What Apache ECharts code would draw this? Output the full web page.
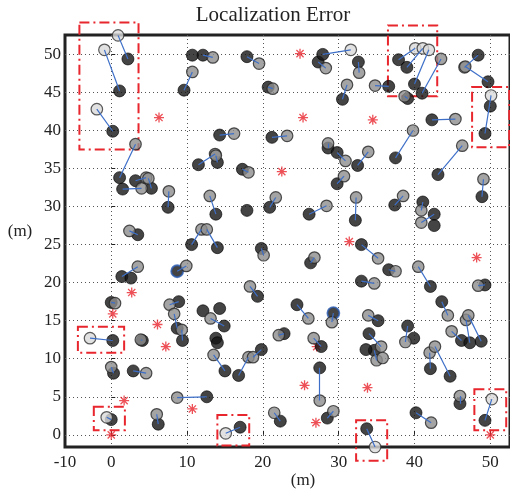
<!DOCTYPE html>
<html>
<head>
<meta charset="utf-8">
<script src="https://cdn.jsdelivr.net/npm/echarts@6/dist/echarts.min.js"></script>
<style>html,body{margin:0;padding:0;background:#fff}#c{width:510px;height:496px}</style>
</head>
<body>
<div id="c"></div>
<script>
// ---- data ----
const titleText = 'Localization Error';
const xLabelValues = [-6.1, 0, 10, 20, 30, 40, 50];
const xLabelTexts = ['-10', '0', '10', '20', '30', '40', '50'];
const xTickValues = [0, 10, 20, 30, 40, 50];
const yTickValues = [0, 5, 10, 15, 20, 25, 30, 35, 40, 45, 50];
const xRange = [-6.1, 52.6];
const yRange = [-1.6, 52.55];

// anchors (red stars)
const anchors = [[6.3,41.7],[24.9,50.1],[25.3,41.7],[22.5,34.6],[34.5,41.4],[2.7,18.7],[31.4,25.4],[48.2,23.3],[0.2,15.9],[6.1,14.5],[7.2,11.6],[1.7,4.5],[10.7,3.4],[0,0],[25.5,6.5],[27.0,1.6],[33.8,6.2],[50,0],[27.1,11.6]];

// [estX, estY, trueX, trueY] - normal nodes
const grayPairs = [
[12.1,49.9,13.4,49.6],[9.6,45.3,10.7,47.7],[17.9,49.7,19.5,48.8],[27.3,49.0,28.3,48.2],
[20.7,45.7,21.3,45.5],[30.5,44.1,31.1,46.0],[14.3,39.4,16.2,39.6],[21.2,39.1,23.2,39.3],
[28.6,37.7,28.6,38.3],[29.8,37.1,30.9,36.0],[11.5,35.5,13.7,36.9],[14.0,35.8,13.8,36.7],
[17.3,34.9,18.1,34.5],[32.6,49.0,32.7,47.6],[36.6,45.8,34.8,45.9],[39.1,44.2,38.7,44.5],
[41.0,44.9,43.5,49.4],[48.4,49.9,46.6,48.3],[49.7,46.4,46.7,48.4],[42.3,41.4,45.4,41.5],
[37.5,36.4,39.8,40.0],[43.1,34.2,46.3,38.0],[32.5,35.4,33.9,37.2],[1.1,33.8,3.2,38.2],
[1.5,32.3,4.0,32.4],[3.2,33.4,4.6,33.8],[5.3,32.4,4.9,33.7],[7.5,29.9,7.6,32.0],
[3.5,26.3,2.4,26.8],[10.6,25.0,11.9,27.0],[14.0,24.6,12.6,27.0],[13.8,29.0,13.0,31.4],
[20.9,29.9,21.7,31.2],[26.1,29.0,28.4,30.1],[29.8,33.0,30.7,34.0],[19.8,24.5,20.1,23.6],
[26.3,22.6,26.8,23.3],[19.3,18.2,18.3,19.5],[1.4,20.8,3.5,22.1],[0.0,17.4,0.5,17.3],
[8.9,17.5,7.7,17.1],[8.7,14.0,8.3,15.9],[9.4,12.4,9.3,13.8],[14.9,14.3,13.1,15.3],
[4.1,12.4,3.9,12.5],[0.3,8.1,0.0,8.9],[2.9,8.4,4.6,8.1],[12.6,5.0,8.7,4.9],
[6.2,1.4,6.0,2.7],[15.0,8.4,13.5,10.5],[16.8,7.8,18.1,10.2],[19.8,11.2,18.7,10.2],
[24.5,17.1,26.0,15.3],[22.8,13.3,22.1,13.1],[27.7,11.6,26.7,12.7],[27.5,8.8,27.5,4.5],
[22.3,1.8,21.5,2.9],[28.5,2.2,29.3,3.1],[35.2,15.0,33.9,15.7],[34.0,13.3,35.6,11.6],
[34.7,11.1,35.0,9.8],[43.6,17.5,44.4,15.7],[39.1,14.3,38.8,12.2],[46.2,12.4,44.9,13.6],
[47.3,12.1,46.8,15.1],[48.8,12.3,47.1,15.7],[42.1,8.7,42.0,10.8],[44.7,7.7,42.7,11.6],
[46.0,4.1,46.0,5.1],[40.2,2.9,42.2,1.6],[32.2,28.2,32.3,31.2],[37.4,30.2,38.5,31.4],
[41.1,30.6,40.9,29.5],[42.6,29.0,40.9,27.9],[33.0,25.0,35.2,23.2],[36.6,21.7,37.5,21.5],
[42.1,19.5,40.5,22.1],[33.0,20.2,34.7,19.9],[49.3,19.7,48.4,19.6],[48.9,31.3,49.1,33.6]
];
// nodes drawn with a blue ring
const ringPairs = [[8.7,21.5,9.9,22.2],[29.3,16.0,29.1,14.8]];
// outlier nodes [estX, estY, trueX, trueY]
const outlierPairs = [
[2.2,49.4,0.9,52.5],[1.1,45.2,-0.9,50.6],[0.2,39.9,-1.9,42.8],[37.9,49.3,40.1,50.8],
[39.0,48.3,41.1,50.8],[40.0,46.1,41.9,50.6],[27.9,50.0,31.6,50.6],[49.3,39.6,50.1,44.6],
[0.2,12.4,-2.8,12.7],[0.0,2.0,-0.6,2.3],[17.0,1.0,15.1,0.2],[49.3,1.9,50.2,4.7],
[33.7,0.8,34.8,-1.6]
];
const loneEst = [[10.7,49.9],[17.9,29.5],[2.6,20.6],[12.1,16.3],[14.3,16.6],[13.8,12.7],[14.0,12.1],[33.6,11.2],[39.9,12.7],[42.6,27.5],[50.0,43.2]];
const loneTrue = [[35.8,10.1]];
// outlier boxes [x1, y1, x2, y2]
const outlierBoxes = [
[-4.2,37.5,3.6,54.2],[36.5,44.5,43.0,53.8],[47.6,37.8,52.5,45.7],[-4.4,10.8,1.7,14.2],
[-2.3,0.6,1.8,3.7],[14.0,-1.4,18.2,2.6],[32.3,-3.4,36.4,1.9],[47.9,0.6,52.1,6.0]
];

// ---- build ----
const allPairs = grayPairs.concat(ringPairs, outlierPairs);
const lineData = allPairs.map(p => ({coords: [[p[0], p[1]], [p[2], p[3]]]}));
const estPts = grayPairs.map(p => [p[0], p[1]]).concat(outlierPairs.map(p => [p[0], p[1]]), loneEst);
const truePts = grayPairs.concat(ringPairs).map(p => [p[2], p[3]]).concat(loneTrue);
const outTrue = outlierPairs.map(p => [p[2], p[3]]);
const ringEst = ringPairs.map(p => [p[0], p[1]]);

const serif = '"Liberation Serif", "DejaVu Serif", serif';
const chart = echarts.init(document.getElementById('c'), null, {renderer: 'canvas'});
const axisCommon = {
  axisLine: {show: false},
  axisTick: {show: true, inside: true, length: 4, lineStyle: {color: '#222', width: 1}},
  splitLine: {show: true, lineStyle: {color: '#555', width: 1, type: [1, 3]}},
};
chart.setOption({
  animation: false,
  backgroundColor: '#fff',
  grid: {left: 65, right: -3, top: 35, bottom: 49, show: true, borderColor: '#222', borderWidth: 3, backgroundColor: 'transparent'},
  xAxis: Object.assign({}, axisCommon, {
    type: 'value', min: xRange[0], max: xRange[1],
    axisTick: Object.assign({}, axisCommon.axisTick, {customValues: xTickValues}),
    axisLabel: {customValues: xLabelValues, margin: 7, color: '#222', fontFamily: serif, fontSize: 17,
      formatter: v => { const i = xLabelValues.findIndex(u => Math.abs(u - v) < 1e-6); return i >= 0 ? xLabelTexts[i] : ''; }}
  }),
  yAxis: Object.assign({}, axisCommon, {
    type: 'value', min: yRange[0], max: yRange[1],
    axisTick: Object.assign({}, axisCommon.axisTick, {customValues: yTickValues}),
    axisLabel: {customValues: yTickValues, margin: 4, color: '#222', fontFamily: serif, fontSize: 17}
  }),
  graphic: [
    {type: 'text', x: 273, y: 15, style: {text: titleText, font: '21px ' + serif, fill: '#222', textAlign: 'center', textVerticalAlign: 'middle'}},
    {type: 'text', x: 20, y: 232, style: {text: '(m)', font: '17px ' + serif, fill: '#222', textAlign: 'center', textVerticalAlign: 'middle'}},
    {type: 'text', x: 303, y: 481, style: {text: '(m)', font: '17px ' + serif, fill: '#222', textAlign: 'center', textVerticalAlign: 'middle'}}
  ],
  series: [
    {type: 'custom', coordinateSystem: 'cartesian2d', clip: false, z: 1, data: outlierBoxes,
      renderItem: (params, api) => {
        const a = api.coord([api.value(0), api.value(3)]);
        const b = api.coord([api.value(2), api.value(1)]);
        return {type: 'rect', shape: {x: a[0], y: a[1], width: b[0] - a[0], height: b[1] - a[1]},
          style: {fill: 'none', stroke: '#e8262d', lineWidth: 2, lineDash: [10, 4, 2, 4]}};
      }},
    {type: 'scatter', clip: false, z: 2, data: anchors, symbol: 'path://M0,-5L0,5M-5,0L5,0M-3.6,-3.6L3.6,3.6M-3.6,3.6L3.6,-3.6', symbolSize: 10,
      itemStyle: {color: 'rgba(0,0,0,0)', borderColor: '#e8262d', borderWidth: 1.3}},
    {type: 'scatter', clip: false, z: 3, data: estPts, symbolSize: 12,
      itemStyle: {color: '#151515', borderColor: '#000', borderWidth: 0.8}},
    {type: 'scatter', clip: false, z: 3, data: ringEst, symbolSize: 12,
      itemStyle: {color: '#151515', borderColor: '#2a5db5', borderWidth: 1.8}},
    {type: 'scatter', clip: false, z: 4, data: truePts, symbolSize: 11.5,
      itemStyle: {color: '#8d8d8d', borderColor: '#262626', borderWidth: 1.2}},
    {type: 'scatter', clip: false, z: 4, data: outTrue, symbolSize: 11.5,
      itemStyle: {color: '#dadada', borderColor: '#333', borderWidth: 1.2}},
    {type: 'lines', coordinateSystem: 'cartesian2d', z: 5, data: lineData,
      lineStyle: {color: '#3d6fc8', width: 1.2, opacity: 1, curveness: 0}}
  ]
});
</script>
</body>
</html>
